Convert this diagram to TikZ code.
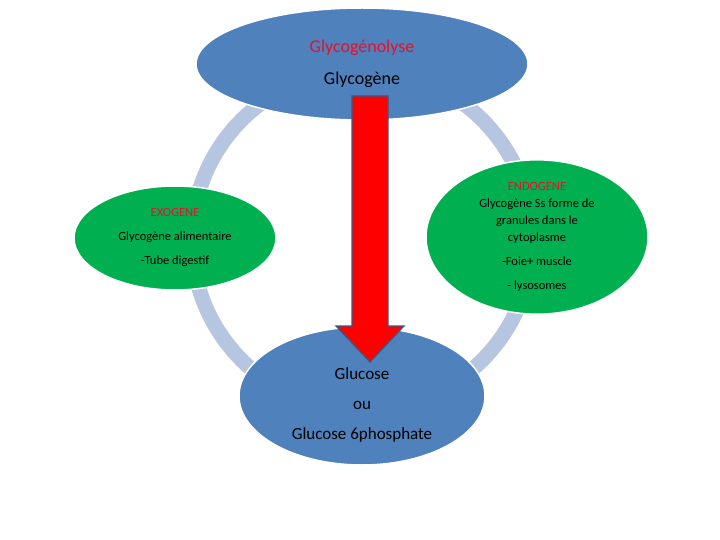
\documentclass[tikz,border=0pt]{standalone}
\usepackage{fontspec}
\setmainfont{Carlito}
\usetikzlibrary{shapes.geometric}
\definecolor{bleu}{HTML}{4F81BD}
\definecolor{anneau}{HTML}{B7C6E0}
\definecolor{vert}{HTML}{00B050}
\definecolor{rouge}{HTML}{E8102A}
\tikzset{
  bulle/.style={ellipse, fill=#1, draw=white, line width=1.5pt, inner sep=0pt, align=center}
}
\begin{document}
\begin{tikzpicture}[x=1pt,y=-1pt]
\useasboundingbox (0,0) rectangle (720,540);
\draw[anneau, line width=15pt] (362,240) circle (170);

\node[bulle=bleu, minimum width=332, minimum height=112, font=\fontsize{18}{32}\selectfont] (haut) at (362,64)
  {\textcolor{rouge}{Glycogénolyse}\\Glycogène};
\node[bulle=vert, minimum width=202, minimum height=104, font=\fontsize{12.5}{24}\selectfont] (exo) at (175,238)
  {\textcolor{rouge}{EXOGENE}\\Glycogène alimentaire\\-Tube digestif};
\node[bulle=vert, minimum width=222, minimum height=128, font=\fontsize{12.5}{17}\selectfont] (endo) at (537,237)
  {\textcolor{rouge}{ENDOGENE}\\Glycogène Ss forme de\\granules dans le\\cytoplasme\\[7pt]-Foie+ muscle\\[7pt]- lysosomes};
\node[bulle=bleu, minimum width=246, minimum height=138, font=\fontsize{17}{30}\selectfont] (bas) at (362,396)
  {\\Glucose\\ou\\Glucose 6phosphate};

% fleche rouge
\draw[fill=red, draw=bleu!70!black, line width=1.2pt]
  (352,96) -- (388,96) -- (388,326) -- (404,326) -- (370,362) -- (336,326) -- (352,326) -- cycle;
\end{tikzpicture}
\end{document}
